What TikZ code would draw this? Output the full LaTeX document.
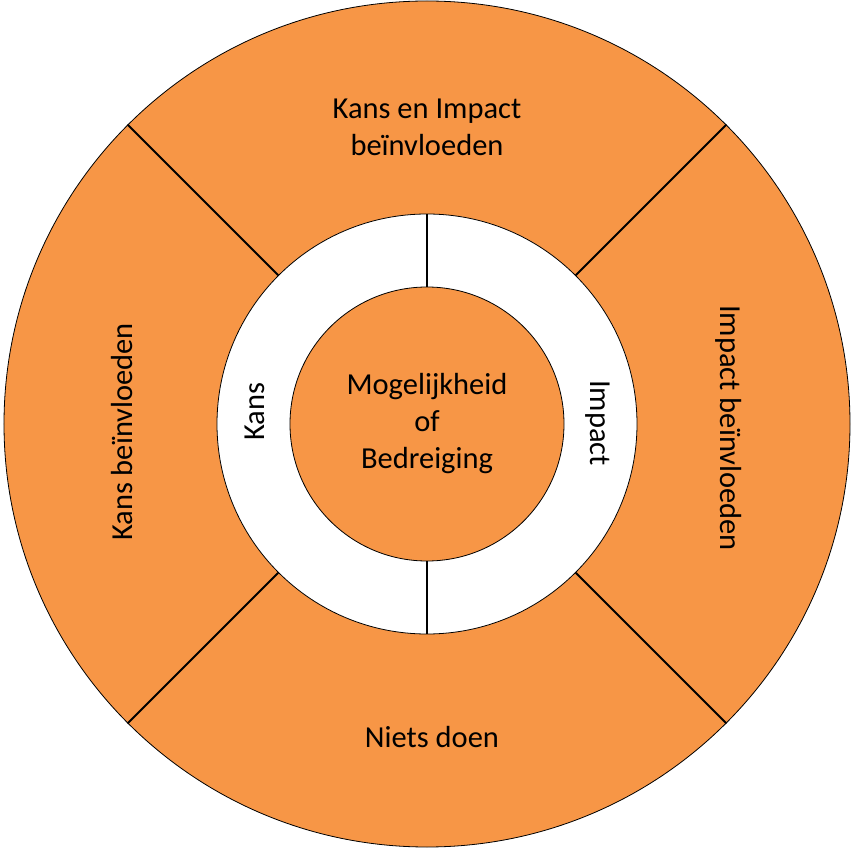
\documentclass[tikz,border=0pt]{standalone}
\usepackage{fontspec}
\setmainfont{Carlito}
\definecolor{acc}{HTML}{F79646}
\begin{document}
\begin{tikzpicture}[x=1pt,y=1pt,
  seg/.style={draw=black,line width=2pt},
  lbl/.style={font=\fontsize{30.5}{37}\selectfont,align=center,text=black}]
\useasboundingbox (-427,-429) rectangle (426,424);
\node[circle,minimum size=846pt,fill=acc,draw=black,line width=0.8pt,inner sep=0] (outer) at (0,0) {};
\node[circle,minimum size=420pt,fill=white,draw=black,line width=0.8pt,inner sep=0] (ring) at (0,0) {};
\node[circle,minimum size=274pt,fill=acc,draw=black,line width=0.8pt,inner sep=0,lbl] (core) at (0,0) {Mogelijkheid\\of\\Bedreiging};
\foreach \a in {45,135,225,315}{
  \draw[seg] (ring.\a) -- (outer.\a);}
\draw[seg] (core.90) -- (ring.90);
\draw[seg] (core.270) -- (ring.270);
\node[lbl] (t1) at (0,297) {Kans en Impact\\beïnvloeden};
\node[lbl] (t2) at (5,-313) {Niets doen};
\node[lbl,rotate=90] (t3) at (-305,-8) {Kans beïnvloeden};
\node[lbl,rotate=-90] (t4) at (302,-4) {Impact beïnvloeden};
\node[lbl,rotate=90] (t5) at (-172,12) {Kans};
\node[lbl,rotate=-90] (t6) at (171,1) {Impact};
\end{tikzpicture}
\end{document}
